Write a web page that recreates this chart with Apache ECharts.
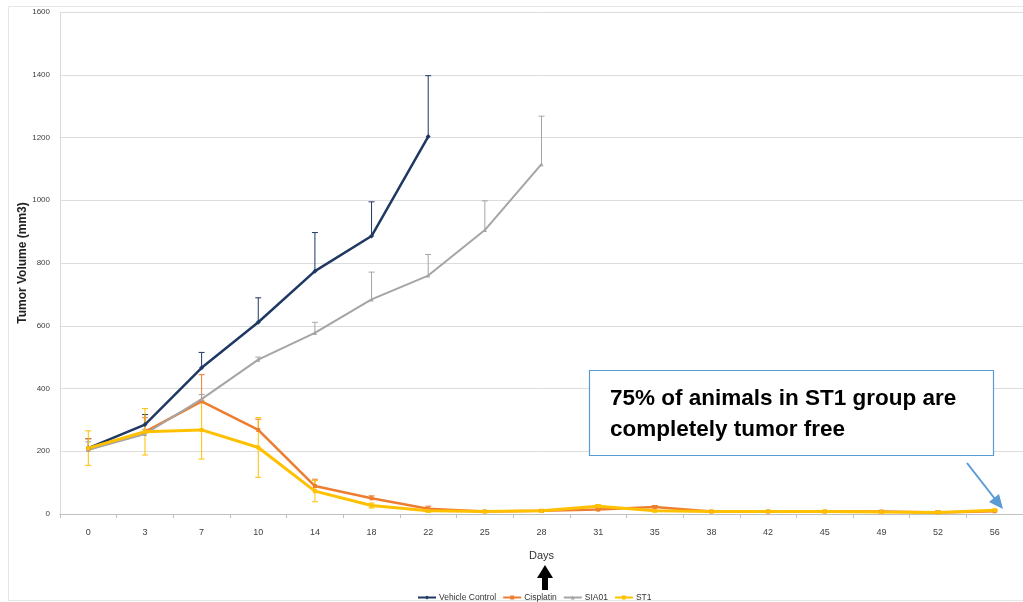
<!DOCTYPE html>
<html>
<head>
<meta charset="utf-8">
<script src="https://cdn.jsdelivr.net/npm/echarts@6/dist/echarts.min.js"></script>
<style>html,body{margin:0;padding:0;background:#fff}#c{width:1023px;height:602px}</style>
</head>
<body>
<div id="c"></div>
<script>
const days = ['0','3','7','10','14','18','22','25','28','31','35','38','42','45','49','52','56'];
const yTicks = [0,200,400,600,800,1000,1200,1400,1600];
const vehicle = [210, 285, 466, 611, 774, 886, 1203];
const vehicleErr = [30, 32, 49, 78, 123, 109, 194];
const cisplatin = [205, 262, 359, 268, 89, 50, 17, 8, 10, 14, 22, 8, 8, 8, 8, 5, 9];
const cisplatinErr = [35, 45, 85, 34, 22, 8, 8, 3, 3, 4, 5, 3, 3, 3, 3, 5, 3];
const sia01 = [205, 255, 366, 492, 577, 684, 760, 905, 1115];
const sia01Err = [25, 15, 15, 8, 34, 87, 67, 93, 153];
const st1 = [210, 262, 268, 212, 73, 27, 10, 8, 10, 25, 10, 8, 8, 8, 6, 5, 12];
const st1Err = [55, 74, 93, 95, 34, 8, 4, 3, 3, 5, 3, 3, 3, 3, 3, 3, 3];

const C_VEH = '#1f3864', C_CIS = '#ed7d31', C_SIA = '#a5a5a5', C_ST1 = '#ffc000';

function errSeries(name, vals, errs, color, both) {
  const data = vals.map((v, i) => [i, v, errs[i]]);
  return {
    type: 'custom', name: name + ' err', silent: true, z: 1,
    renderItem: function (params, api) {
      const x = api.value(0), v = api.value(1), e = api.value(2);
      const p0 = api.coord([x, v]);
      const pt = api.coord([x, v + e]);
      const pb = api.coord([x, both ? v - e : v]);
      const cap = 3;
      const st = {stroke: color, lineWidth: 1};
      const ch = [
        {type: 'line', shape: {x1: p0[0], y1: pb[1], x2: p0[0], y2: pt[1]}, style: st},
        {type: 'line', shape: {x1: p0[0] - cap, y1: pt[1], x2: p0[0] + cap, y2: pt[1]}, style: st}
      ];
      if (both) ch.push({type: 'line', shape: {x1: p0[0] - cap, y1: pb[1], x2: p0[0] + cap, y2: pb[1]}, style: st});
      return {type: 'group', children: ch};
    },
    encode: {x: 0, y: 1},
    data: data
  };
}

function lineSeries(name, vals, color, width, symbol, size) {
  return {
    type: 'line', name: name, data: vals, z: 3,
    symbol: symbol, symbolSize: size, showSymbol: true,
    lineStyle: {color: color, width: width},
    itemStyle: {color: color},
    emphasis: {disabled: true}
  };
}

const chart = echarts.init(document.getElementById('c'), null, {renderer: 'canvas'});
chart.setOption({
  animation: false,
  backgroundColor: '#fff',
  grid: {left: 60, top: 12, width: 974, height: 502, containLabel: false},
  xAxis: {
    type: 'category', data: days, boundaryGap: true,
    name: 'Days', nameLocation: 'middle', nameGap: 36,
    nameTextStyle: {fontFamily: 'Liberation Sans Narrow, Liberation Sans', fontSize: 11, color: '#333'},
    axisLine: {lineStyle: {color: '#bfbfbf'}},
    axisTick: {show: true, lineStyle: {color: '#bfbfbf'}, length: 4},
    axisLabel: {fontFamily: 'Liberation Sans Narrow, Liberation Sans', fontSize: 9, color: '#404040', margin: 14}
  },
  yAxis: {
    type: 'value', min: 0, max: 1600, interval: 200,
    name: 'Tumor Volume (mm3)', nameLocation: 'middle', nameGap: 31, nameRotate: 90, nameMoveOverlap: false,
    nameTextStyle: {fontFamily: 'Liberation Sans', fontWeight: 'bold', fontSize: 12, color: '#222'},
    axisLine: {show: true, lineStyle: {color: '#d9d9d9'}},
    axisTick: {show: false},
    axisLabel: {fontFamily: 'Liberation Sans Narrow, Liberation Sans', fontSize: 8, color: '#404040', margin: 10,
      formatter: v => yTicks.includes(v) ? String(v) : ''},
    splitLine: {lineStyle: {color: '#dcdcdc'}}
  },
  legend: {
    data: ['Vehicle Control', 'Cisplatin', 'SIA01', 'ST1'],
    left: 412, top: 588, itemWidth: 18, itemHeight: 5, itemGap: 6,
    textStyle: {fontFamily: 'Liberation Sans Narrow, Liberation Sans', fontSize: 8.5, color: '#333', padding: [0, 0, 0, -2]}
  },
  series: [
    errSeries('Vehicle Control', vehicle, vehicleErr, C_VEH, false),
    errSeries('Cisplatin', cisplatin, cisplatinErr, C_CIS, false),
    errSeries('SIA01', sia01, sia01Err, C_SIA, false),
    errSeries('ST1', st1, st1Err, C_ST1, true),
    lineSeries('Vehicle Control', vehicle, C_VEH, 2.5, 'diamond', 5),
    lineSeries('Cisplatin', cisplatin, C_CIS, 2.5, 'rect', 4),
    lineSeries('SIA01', sia01, C_SIA, 2, 'triangle', 4),
    lineSeries('ST1', st1, C_ST1, 3, 'rect', 4)
  ],
  graphic: [
    {type: 'rect', left: 6, top: 4, shape: {width: 1100, height: 594}, style: {fill: 'none', stroke: '#e6e6e6', lineWidth: 1}, z: -1, silent: true},
    {type: 'rect', shape: {x: 589.5, y: 370.5, width: 404, height: 85}, style: {fill: '#fff', stroke: '#5b9bd5', lineWidth: 1.2}, z: 10},
    {type: 'text', x: 610, y: 383, style: {text: '75% of animals in ST1 group are\ncompletely tumor free', fill: '#000',
      font: 'bold 22.5px "Liberation Sans", Arial, sans-serif', lineHeight: 31}, z: 11},
    {type: 'line', shape: {x1: 967, y1: 463, x2: 995, y2: 499}, style: {stroke: '#5b9bd5', lineWidth: 2}, z: 11},
    {type: 'polygon', shape: {points: [[1003, 509], [989, 502], [999, 494]]}, style: {fill: '#5b9bd5'}, z: 11},
    {type: 'polygon', shape: {points: [[545, 565], [537, 578], [542, 578], [542, 590], [548, 590], [548, 578], [553, 578]]}, style: {fill: '#000'}, z: 11}
  ]
});
</script>
</body>
</html>
